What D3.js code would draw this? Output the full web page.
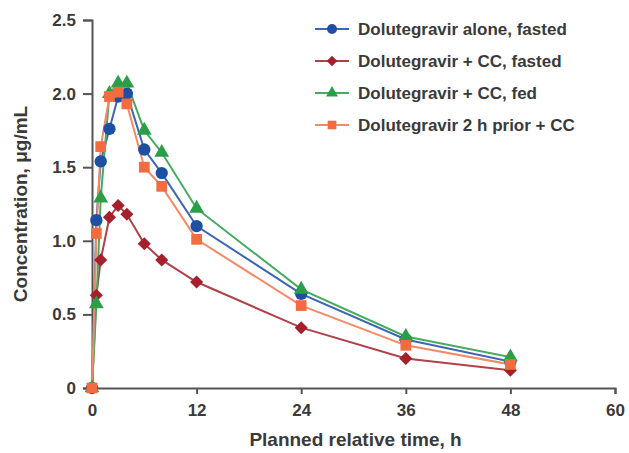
<!DOCTYPE html>
<html>
<head>
<meta charset="utf-8">
<script src="https://cdn.jsdelivr.net/npm/d3@7"></script>
<style>
  body { margin: 0; background: #fff; }
  svg text { font-family: "Liberation Sans", Arial, sans-serif; font-weight: bold; fill: #3a3a3a; }
</style>
</head>
<body>
<div id="chart"></div>
<script>
// planned time points (h)
var times = [0, 0.5, 1, 2, 3, 4, 6, 8, 12, 24, 36, 48];

var aloneFasted  = [0, 1.14, 1.54, 1.76, 1.98, 2.00, 1.62, 1.46, 1.10, 0.64, 0.33, 0.18];
var ccFasted     = [0, 0.63, 0.87, 1.16, 1.24, 1.18, 0.98, 0.87, 0.72, 0.41, 0.20, 0.12];
var ccFed        = [0, 0.57, 1.29, 2.00, 2.07, 2.07, 1.75, 1.60, 1.22, 0.67, 0.35, 0.21];
var priorCC      = [0, 1.05, 1.64, 1.98, 2.01, 1.93, 1.50, 1.37, 1.01, 0.56, 0.29, 0.16];

var seriesNames = ["Dolutegravir alone, fasted", "Dolutegravir + CC, fasted",
                   "Dolutegravir + CC, fed", "Dolutegravir 2 h prior + CC"];
var xTicks = [0, 12, 24, 36, 48, 60];
var yTicks = [0, 0.5, 1.0, 1.5, 2.0, 2.5];

var W = 629, H = 453;
var margin = {top: 20, right: 14, bottom: 64, left: 92};

var series = [
  {name: seriesNames[0], values: aloneFasted, color: "#1f4fa3", line: "#3d66b5", shape: "circle"},
  {name: seriesNames[1], values: ccFasted,    color: "#a61f2a", line: "#b0404a", shape: "diamond"},
  {name: seriesNames[2], values: ccFed,       color: "#2b9f48", line: "#45ab5f", shape: "triangle"},
  {name: seriesNames[3], values: priorCC,     color: "#f26c3f", line: "#f38a66", shape: "square"}
];

var svg = d3.select("#chart").append("svg")
  .attr("width", W).attr("height", H);

var x = d3.scaleLinear().domain([0, 60]).range([margin.left, W - margin.right]);
var y = d3.scaleLinear().domain([0, 2.5]).range([H - margin.bottom - 1, margin.top]);

// diamond = square turned 45deg, so it is as wide as it is tall
function marker(shape, scale){
  var k = scale || 1;
  if(shape == "circle") return {d: d3.symbol().type(d3.symbolCircle).size(120 * k)(), rot: 0};
  if(shape == "diamond") return {d: d3.symbol().type(d3.symbolSquare).size(85 * k)(), rot: 45};
  if(shape == "triangle") return {d: d3.symbol().type(d3.symbolTriangle).size(95 * k)(), rot: 0};
  return {d: d3.symbol().type(d3.symbolSquare).size(115 * k)(), rot: 0};
}

// axes
var xAxis = svg.append("g")
  .attr("transform", "translate(0," + y(0) + ")")
  .call(d3.axisBottom(x).tickValues(xTicks).tickSize(6).tickPadding(10));
var yAxis = svg.append("g")
  .attr("transform", "translate(" + x(0) + ",0)")
  .call(d3.axisLeft(y).tickValues(yTicks).tickSize(9).tickPadding(7)
    .tickFormat(function(d){ return d == 0 ? "0" : d3.format(".1f")(d); }));

[xAxis, yAxis].forEach(function(ax){
  ax.select(".domain").attr("stroke", "#555").attr("stroke-width", 2);
  ax.selectAll(".tick line").attr("stroke", "#555").attr("stroke-width", 2);
  ax.selectAll(".tick text").style("font-size", "17px").attr("fill", "#3a3a3a");
});

// axis titles
svg.append("text")
  .attr("x", (x(0) + x(60)) / 2 + 2).attr("y", 446)
  .attr("text-anchor", "middle").style("font-size", "19px")
  .text("Planned relative time, h");
svg.append("text")
  .attr("transform", "translate(27," + ((y(0) + y(2.5)) / 2) + ") rotate(-90)")
  .attr("text-anchor", "middle").style("font-size", "19px")
  .text("Concentration, \u03bcg/mL");

// lines
var line = d3.line()
  .x(function(d, i){ return x(times[i]); })
  .y(function(d){ return y(d); });

series.forEach(function(s){
  svg.append("path")
    .attr("d", line(s.values))
    .attr("fill", "none")
    .attr("stroke", s.line)
    .attr("stroke-width", 2);
});

// markers
series.forEach(function(s){
  var m = marker(s.shape);
  svg.append("g").selectAll("path")
    .data(s.values)
    .enter().append("path")
    .attr("transform", function(d, i){
      return "translate(" + x(times[i]) + "," + y(d) + ") rotate(" + m.rot + ")";
    })
    .attr("d", m.d)
    .attr("fill", s.color);
});

// legend
var legend = svg.append("g").attr("transform", "translate(315,29)");
series.forEach(function(s, i){
  var g = legend.append("g").attr("transform", "translate(0," + (i * 32) + ")");
  var m = marker(s.shape, 0.65);
  g.append("line").attr("x1", 0).attr("x2", 34).attr("y1", 0).attr("y2", 0)
    .attr("stroke", s.line).attr("stroke-width", 2);
  g.append("path").attr("transform", "translate(17,0) rotate(" + m.rot + ")")
    .attr("d", m.d)
    .attr("fill", s.color);
  g.append("text").attr("x", 43).attr("y", 6)
    .style("font-size", "17px")
    .text(s.name);
});
</script>
</body>
</html>
